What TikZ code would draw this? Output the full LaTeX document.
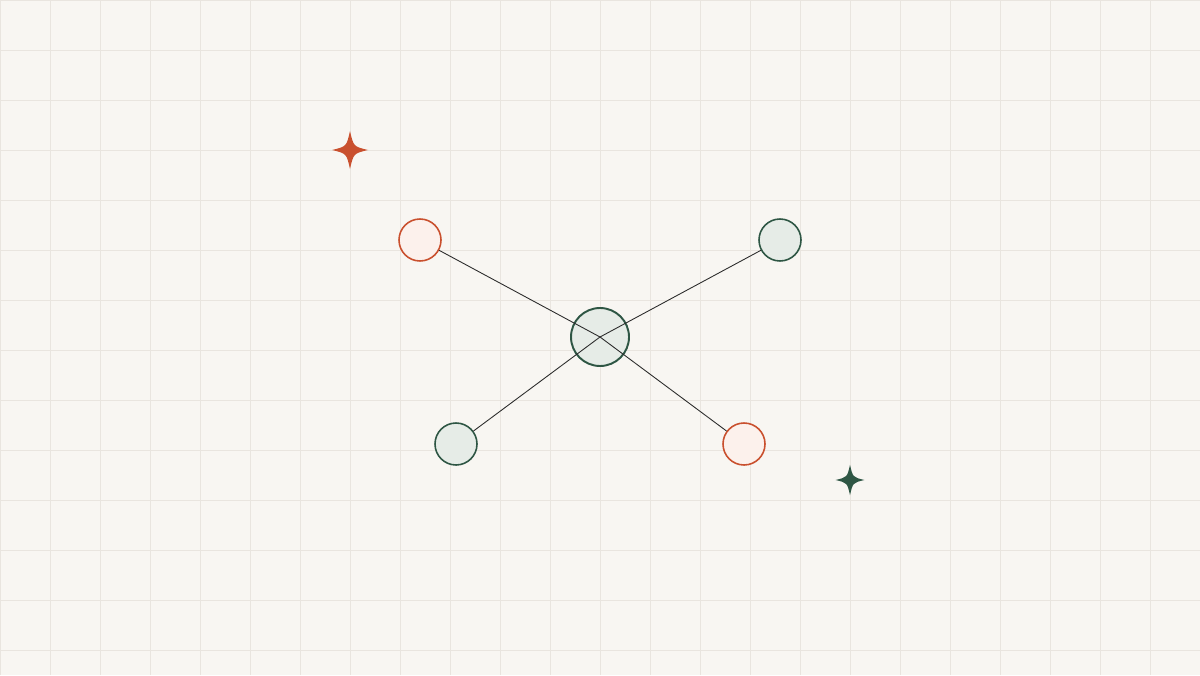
\documentclass[tikz,border=0pt]{standalone}
\usetikzlibrary{positioning}
\definecolor{paper}{HTML}{F8F6F2}
\definecolor{gridc}{HTML}{E9E5DF}
\definecolor{rust}{HTML}{C9502E}
\definecolor{rustfill}{HTML}{FCF1EC}
\definecolor{pine}{HTML}{2E5644}
\definecolor{pinefill}{HTML}{E6ECE7}
\definecolor{spokec}{HTML}{2B2B2B}
\tikzset{
	hubnode/.style={circle,draw=pine,fill=pinefill,line width=1.1pt,minimum size=1.16cm,inner sep=0pt},
	rustnode/.style={circle,draw=rust,fill=rustfill,line width=0.9pt,minimum size=0.84cm,inner sep=0pt},
	pinenode/.style={circle,draw=pine,fill=pinefill,line width=0.9pt,minimum size=0.84cm,inner sep=0pt},
	spoke/.style={draw=spokec,line width=0.5pt},
	pics/sparkle/.style={code={
		\fill[#1] (0,0.38) .. controls (0.07,0.07) .. (0.36,0)
			.. controls (0.07,-0.07) .. (0,-0.38)
			.. controls (-0.07,-0.07) .. (-0.36,0)
			.. controls (-0.07,0.07) .. cycle;
	}}
}
\begin{document}
\begin{tikzpicture}
	\fill[paper] (0,0) rectangle (24,13.5);
	\useasboundingbox (0,0) rectangle (24,13.5);
	\draw[gridc,line width=0.5pt,shift={(0,0.5)}] (0,-0.5) grid (24,13);
	% nodes
	\node[hubnode] (hub) at (12,6.76) {};
	\node[rustnode] (rtl) at (8.4,8.7) {};
	\node[pinenode] (ptr) at (15.6,8.7) {};
	\node[pinenode] (pbl) at (9.12,4.62) {};
	\node[rustnode] (rbr) at (14.88,4.62) {};
	% spokes
	\draw[spoke] (hub.center) -- (rtl);
	\draw[spoke] (hub.center) -- (ptr);
	\draw[spoke] (hub.center) -- (pbl);
	\draw[spoke] (hub.center) -- (rbr);
	% sparkles
	\pic at (7,10.5) {sparkle=rust};
	\pic[scale=0.8] at (17,3.9) {sparkle=pine};
\end{tikzpicture}
\end{document}
